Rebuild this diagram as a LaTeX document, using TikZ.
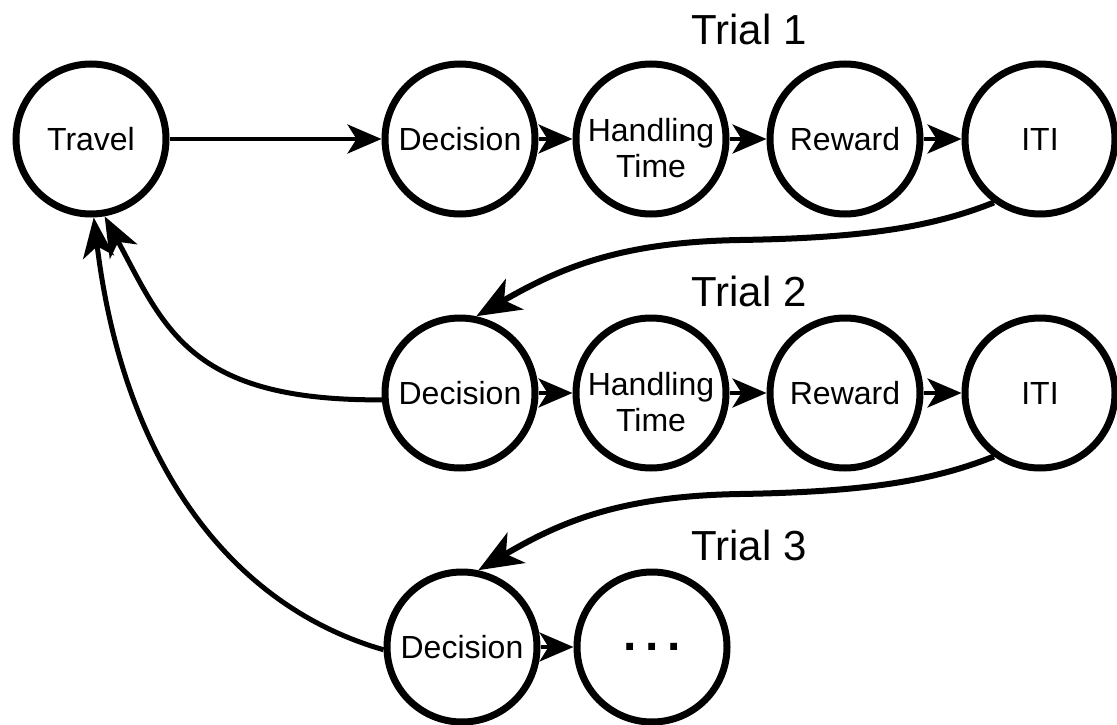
\documentclass[tikz,border=0pt]{standalone}
\usepackage{fontspec}
\setmainfont{Liberation Sans}
\usetikzlibrary{arrows.meta}
% two-line state label, set a little below the centre of its circle
\newcommand{\twolines}[2]{\raisebox{-20pt}[0pt][0pt]{\begin{tabular}{@{}c@{}}#1\\#2\end{tabular}}}
\begin{document}
\begin{tikzpicture}[x=1pt,y=-1pt,
  state/.style={circle,draw,line width=7pt,minimum size=150pt,inner sep=0pt,
    font=\fontsize{32}{36}\selectfont,align=center},
  trial/.style={font=\fontsize{42}{50}\selectfont,anchor=base},
  link/.style={line width=4pt,-{Stealth[length=34pt,width=29pt,inset=9pt]}},
  nexttrial/.style={line width=6pt,-{Stealth[length=44pt,width=35pt,inset=12pt]}},
  backtravel/.style={line width=5pt,-{Stealth[length=40pt,width=31pt,inset=11pt]}}]
\useasboundingbox (0,0) rectangle (1117,725);

% travel state
\node[state] (T) at (91,139) {Travel};

% trial 1
\node[trial] (t1) at (749,45) {Trial 1};
\node[state] (D1) at (460,139) {Decision};
\node[state] (H1) at (651,139) {\twolines{Handling}{Time}};
\node[state] (R1) at (845,139) {Reward};
\node[state] (I1) at (1040,139) {ITI};

% trial 2
\node[trial] (t2) at (749,306) {Trial 2};
\node[state] (D2) at (460,393) {Decision};
\node[state] (H2) at (651,393) {\twolines{Handling}{Time}};
\node[state] (R2) at (845,393) {Reward};
\node[state] (I2) at (1040,393) {ITI};

% trial 3
\node[trial] (t3) at (749,560) {Trial 3};
\node[state] (D3) at (462,647) {Decision};
\node[state,font=\fontsize{48}{56}\selectfont\bfseries] (E3) at (652,647)
  {.\hspace{9pt}.\hspace{9pt}.};

% forward steps
\draw[link] (T) -- (D1);
\foreach \a/\b in {D1/H1,H1/R1,R1/I1,D2/H2,H2/R2,R2/I2,D3/E3}
  \draw[link] (\a) -- (\b);

% from ITI to the next trial
\draw[nexttrial] (I1.-126) .. controls (930,228) and (860,238) .. (740,240)
  .. controls (620,242) and (560,268) .. (D2.78);
\draw[nexttrial] (I2.-126) .. controls (930,482) and (860,492) .. (740,494)
  .. controls (620,496) and (560,522) .. (D3.78);

% back to travel
\draw[backtravel] (D2.185) .. controls (190,401) and (165,329) .. (T.-80);
\draw[backtravel] (D3.182) .. controls (234,607) and (124,467) .. (T.-88);
\end{tikzpicture}
\end{document}
